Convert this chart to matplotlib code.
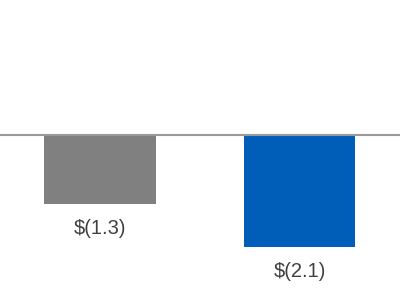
import matplotlib
matplotlib.use("Agg")
import matplotlib.pyplot as plt

categories = ["A", "B"]
values = [-1.3, -2.1]
labels = ["$(1.3)", "$(2.1)"]
colors = ["#808080", "#005EB8"]

fig = plt.figure(figsize=(4, 3), dpi=100)
ax = fig.add_axes([0, 0, 1, 1])
x = list(range(len(categories)))
ax.bar(x, values, width=0.555, color=colors, zorder=2)
ax.axhline(0, color="#999999", linewidth=1.5, zorder=3)
for xi, v, lab in zip(x, values, labels):
    ax.annotate(lab, (xi, v), xytext=(0, -17.5), textcoords="offset points",
                ha="center", va="center", fontsize=14.5, color="#404040",
                family=["Liberation Sans", "DejaVu Sans"])
ax.set_xlim(-0.5, 1.5)
ax.set_ylim(-3.093, 2.514)
ax.axis("off")
fig.savefig("out.png", dpi=100)
